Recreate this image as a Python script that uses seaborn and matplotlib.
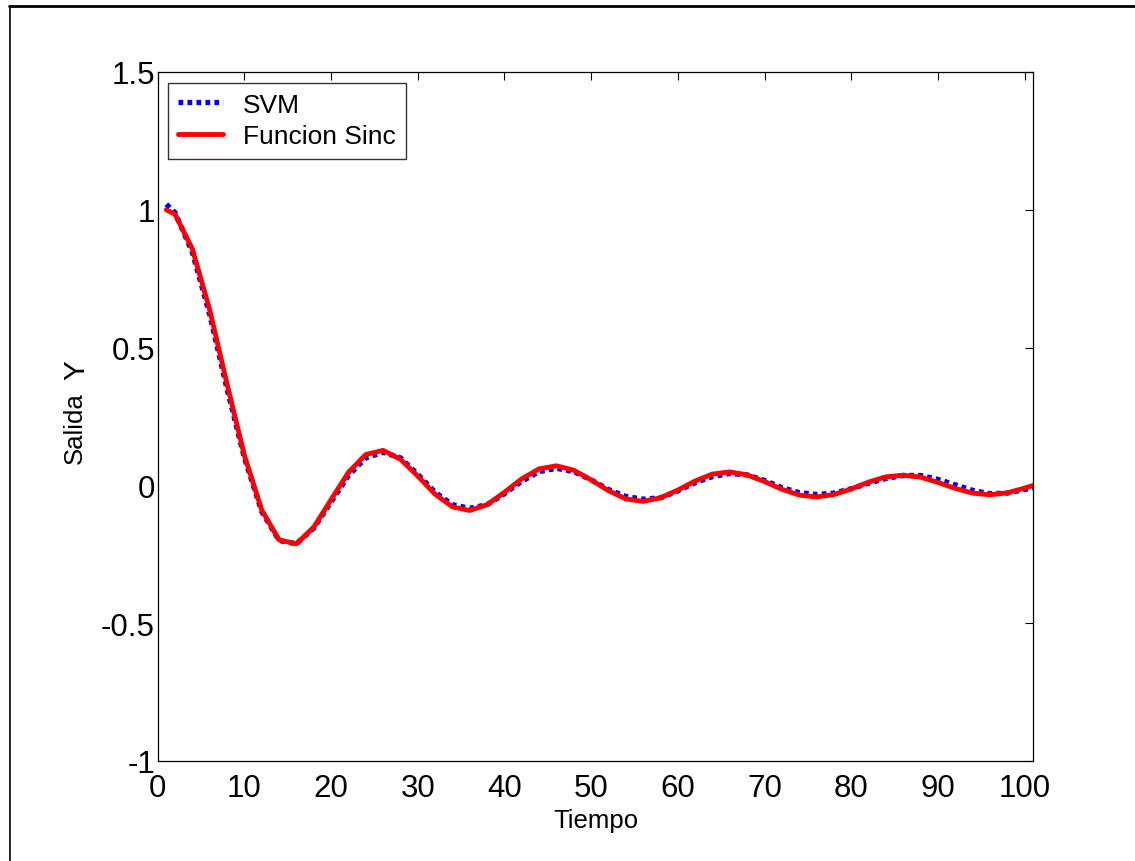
import numpy as np
import pandas as pd
import seaborn as sns
import matplotlib
matplotlib.use("Agg")
import matplotlib.pyplot as plt
from matplotlib.lines import Line2D

# ---- data ----
tiempo = [1, 2, 4, 6, 8, 10, 12, 14, 16, 18, 20, 22, 24, 26, 28, 30, 32, 34, 36, 38, 40,
          42, 44, 46, 48, 50, 52, 54, 56, 58, 60, 62, 64, 66, 68, 70, 72, 74, 76, 78, 80,
          82, 84, 86, 88, 90, 92, 94, 96, 98, 100, 101]

sinc_vals = [1.0, 0.984, 0.858, 0.637, 0.368, 0.109, -0.089, -0.198, -0.212, -0.152, -0.052,
             0.047, 0.112, 0.127, 0.095, 0.034, -0.032, -0.078, -0.091, -0.070, -0.025,
             0.024, 0.060, 0.071, 0.055, 0.020, -0.019, -0.049, -0.058, -0.045, -0.017,
             0.016, 0.041, 0.049, 0.038, 0.014, -0.014, -0.035, -0.042, -0.033, -0.013,
             0.012, 0.031, 0.037, 0.030, 0.011, -0.011, -0.028, -0.034, -0.027, -0.010, 0.0]

svm_vals = [1.02, 0.99, 0.845, 0.62, 0.35, 0.10, -0.095, -0.20, -0.212, -0.155, -0.06,
            0.035, 0.10, 0.12, 0.10, 0.04, -0.025, -0.07, -0.083, -0.07, -0.03,
            0.015, 0.05, 0.062, 0.05, 0.02, -0.015, -0.04, -0.05, -0.045, -0.02,
            0.01, 0.032, 0.043, 0.038, 0.018, -0.008, -0.026, -0.033, -0.028, -0.012,
            0.008, 0.025, 0.036, 0.036, 0.022, 0.002, -0.018, -0.03, -0.028, -0.015, -0.008]

x_ticks = [0, 10, 20, 30, 40, 50, 60, 70, 80, 90, 100]
y_ticks = [-1, -0.5, 0, 0.5, 1, 1.5]
y_ticklabels = ["-1", "-0.5", "0", "0.5", "1", "1.5"]

df = pd.DataFrame({"Tiempo": tiempo, "SVM": svm_vals, "Funcion Sinc": sinc_vals})

sns.set_style("white")
plt.rcParams["font.family"] = ["Liberation Sans", "DejaVu Sans"]
plt.rcParams["text.color"] = "black"
plt.rcParams["axes.labelcolor"] = "black"
plt.rcParams["xtick.color"] = "black"
plt.rcParams["ytick.color"] = "black"

fig = plt.figure(figsize=(11.35, 8.62), dpi=100)
ax = fig.add_axes([157.7 / 1135, 1 - 762 / 862, (1033.3 - 157.7) / 1135, (762 - 73) / 862])

sns.lineplot(data=df, x="Tiempo", y="SVM", ax=ax, color="#0000ff", lw=3.8,
             linestyle=(0, (0.9, 0.8)), dash_capstyle="butt", label="SVM", sort=False)
sns.lineplot(data=df, x="Tiempo", y="Funcion Sinc", ax=ax, color="#ff0000", lw=3.5,
             label="Funcion Sinc", sort=False)

ax.set_xlim(0, 101)
ax.set_ylim(-1, 1.5)
ax.set_xticks(x_ticks)
ax.set_xticklabels([str(v) for v in x_ticks])
ax.set_yticks(y_ticks)
ax.set_yticklabels(y_ticklabels)
ax.tick_params(direction="in", length=6, width=0.8, top=True, right=True,
               labelsize=22.5, colors="black")
ax.tick_params(axis="x", pad=9)
ax.tick_params(axis="y", pad=2)
for s in ax.spines.values():
    s.set_visible(True)
    s.set_color("black")
    s.set_linewidth(0.9)

ax.set_xlabel("Tiempo", fontsize=18.5, labelpad=3, color="black")
ax.set_ylabel("")
fig.text(75 / 1135, 1 - 428 / 862, "Salida", rotation=90, fontsize=18.5,
         ha="center", va="center", color="black")
fig.text(76 / 1135, 1 - 370 / 862, "Y", rotation=90, fontsize=21.5,
         ha="center", va="center", color="black")

leg = ax.legend(loc="upper left", fontsize=19, frameon=True, fancybox=False,
                handlelength=1.7, borderaxespad=0.4, borderpad=0.38,
                labelspacing=0.3, handletextpad=0.75)
leg.get_frame().set_edgecolor("black")
leg.get_frame().set_linewidth(1.0)
for t in leg.get_texts():
    t.set_color("black")

# outer figure border (top and left edges only)
fig.add_artist(Line2D([9 / 1135, 1.0], [1 - 7 / 862, 1 - 7 / 862],
                      transform=fig.transFigure, color="black", lw=2))
fig.add_artist(Line2D([9.5 / 1135, 9.5 / 1135], [0.0, 1 - 7 / 862],
                      transform=fig.transFigure, color="black", lw=1.2))

fig.savefig("out.png", dpi=100)
